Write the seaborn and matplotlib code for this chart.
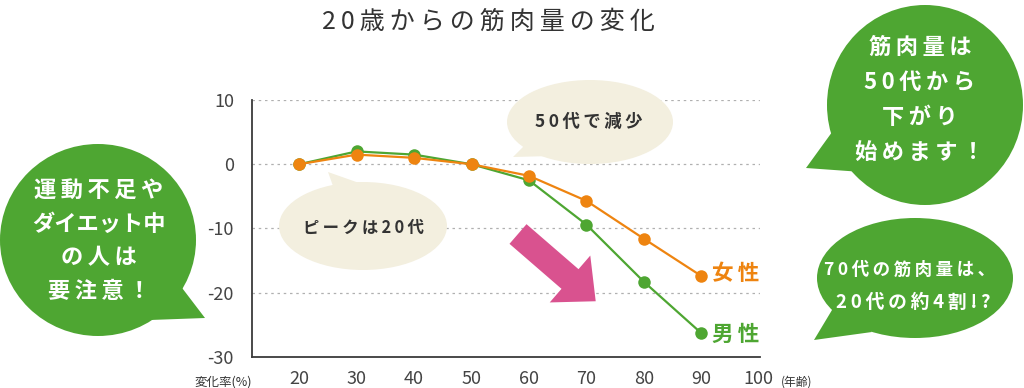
import numpy as np
import pandas as pd
import matplotlib
matplotlib.use("Agg")
import matplotlib.pyplot as plt
import matplotlib.transforms as mtransforms
from matplotlib.patches import Ellipse, Polygon, FancyArrow
import seaborn as sns

# Data
ages = [20, 30, 40, 50, 60, 70, 80, 90]
female = [0, 1.5, 1.0, 0, -1.8, -5.7, -11.6, -17.4]
male = [0, 2.0, 1.5, 0, -2.5, -9.4, -18.3, -26.3]
x_ticks = [20, 30, 40, 50, 60, 70, 80, 90, 100]
y_ticks = [10, 0, -10, -20, -30]

GREEN = "#4ea632"
ORANGE = "#ee8410"
PINK = "#d9528f"
BEIGE = "#f3efdf"
DARK = "#333333"

df = pd.concat([
    pd.DataFrame({"age": ages, "change": male, "sex": "男性"}),
    pd.DataFrame({"age": ages, "change": female, "sex": "女性"}),
])

sns.set_style("white")
plt.rcParams["font.family"] = ["Noto Sans CJK JP", "DejaVu Sans"]
plt.rcParams["axes.unicode_minus"] = False


def track(s, n=1):
    # letter spacing with thin spaces
    return ("\u2009" * n).join(s)


fig = plt.figure(figsize=(10.24, 3.88), dpi=100)
ax = fig.add_axes([252 / 1024, 1 - 357 / 388, 508 / 1024, 257 / 388])

# pixel coordinates of the 1024x388 canvas (origin top-left) for decorations
px = mtransforms.Affine2D().scale(1 / 1024, -1 / 388).translate(0, 1) + fig.transFigure

sns.lineplot(data=df, x="age", y="change", hue="sex", palette={"男性": GREEN, "女性": ORANGE},
             marker="o", markersize=9, markeredgewidth=0, linewidth=1.6, legend=False, ax=ax)
for ln in ax.lines:
    ln.set_zorder(3)

ax.set_xlim(11.8, 100.2)
ax.set_ylim(-30, 10)
ax.set_yticks(y_ticks)
ax.set_yticklabels([str(v) for v in y_ticks])
ax.set_xticks(x_ticks)
ax.set_xticklabels([str(v) for v in x_ticks])
ax.tick_params(length=0, labelsize=13, labelcolor="#444444")
ax.tick_params(axis="x", pad=9)
ax.tick_params(axis="y", pad=13)
ax.set_xlabel("")
ax.set_ylabel("")
for s in ["top", "right"]:
    ax.spines[s].set_visible(False)
for s in ["left", "bottom"]:
    ax.spines[s].set_color("#3a3a3a")
    ax.spines[s].set_linewidth(1.3)
ax.set_axisbelow(True)
for v in [10, 0, -10, -20]:
    ax.axhline(v, color="#b0b0b0", linewidth=0.9, linestyle=(0, (2, 3)), zorder=0.5)


def bubble(target, cx, cy, w, h, tail, color, inside=False):
    e = Ellipse((cx, cy), w, h, facecolor=color, edgecolor="none", transform=px, zorder=1.5)
    t = Polygon(tail, closed=True, facecolor=color, edgecolor="none", transform=px, zorder=1.5)
    for p in (e, t):
        if inside:
            p.set_clip_on(False)
            target.add_patch(p)
        else:
            target.add_artist(p)


# beige speech bubbles inside the plot
bubble(ax, 590, 122, 166, 84, [(513, 157), (530, 140), (552, 156)], BEIGE, inside=True)
bubble(ax, 363, 226, 168, 88, [(328, 172), (338, 200), (362, 184)], BEIGE, inside=True)
ax.text(589, 122, track("50代で減少"), transform=px, ha="center", va="center", fontsize=12.5,
        color=DARK, fontweight="bold", zorder=4)
ax.text(363, 228, track("ピークは20代"), transform=px, ha="center", va="center", fontsize=11.8,
        color=DARK, fontweight="bold", zorder=4)

# pink arrow
ax.add_patch(FancyArrow(518, 234, 52, 45, width=26, head_width=62, head_length=34,
                        length_includes_head=False, facecolor=PINK, edgecolor="none",
                        transform=px, zorder=2, clip_on=False))

# green speech bubbles outside the plot
bubble(fig, 98, 240, 196, 192, [(176, 280), (205, 318), (150, 320)], GREEN)
bubble(fig, 925, 105, 196, 200, [(835, 128), (806, 168), (862, 172)], GREEN)
bubble(fig, 915, 278, 196, 120, [(838, 300), (814, 340), (872, 332)], GREEN)

left_lines = [track("運動不足や"), "ダイエット中", track("の人は"), track("要注意！")]
for i, s in enumerate(left_lines):
    fig.text(99, 190 + 34 * i, s, transform=px, ha="center", va="center", fontsize=16,
             color="white", fontweight="bold")
top_lines = ["筋肉量は", "50代から", "下がり", "始めます！"]
for i, s in enumerate(top_lines):
    fig.text(920, 47 + 35 * i, track(s), transform=px, ha="center", va="center", fontsize=16,
             color="white", fontweight="bold")
fig.text(910, 270, track("70代の筋肉量は、"), transform=px, ha="center", va="center",
         fontsize=12.6, color="white", fontweight="bold")
fig.text(913, 302, track("20代の約4割!?"), transform=px, ha="center", va="center",
         fontsize=13.5, color="white", fontweight="bold")

# series labels
fig.text(712, 274, track("女性"), transform=px, ha="left", va="center", fontsize=15.5,
         color=ORANGE, fontweight="bold")
fig.text(712, 334, track("男性"), transform=px, ha="left", va="center", fontsize=15.5,
         color=GREEN, fontweight="bold")

# title and axis notes
fig.text(488, 22, track("20歳からの筋肉量の変化"), transform=px, ha="center", va="center",
         fontsize=18, color=DARK)
fig.text(223, 382, "変化率(%)", transform=px, ha="center", va="center", fontsize=9,
         color=DARK)
fig.text(781, 382, "(年齢)", transform=px, ha="left", va="center", fontsize=8.5,
         color=DARK)

fig.savefig("out.png", dpi=100)
